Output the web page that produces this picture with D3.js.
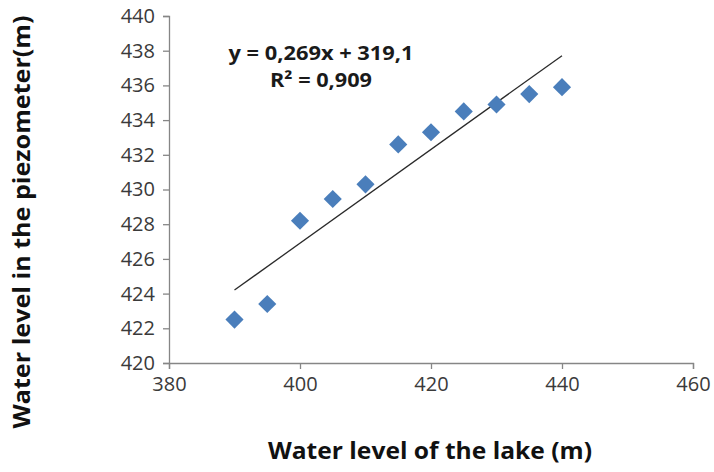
<!DOCTYPE html>
<html>
<head>
<meta charset="utf-8">
<script src="https://cdn.jsdelivr.net/npm/d3@7"></script>
<style>
  html, body { margin: 0; padding: 0; background: #fff; }
  svg { display: block; font-family: 'Open Sans', sans-serif; }
</style>
</head>
<body>
<div id="wrapper"></div>
<script>
// data
const lakeLevels = [390, 395, 400, 405, 410, 415, 420, 425, 430, 435, 440];
const piezoLevels = [422.5, 423.4, 428.2, 429.45, 430.3, 432.6, 433.3, 434.5, 434.9, 435.5, 435.9];
const xTicks = [380, 400, 420, 440, 460];
const yTicks = [420, 422, 424, 426, 428, 430, 432, 434, 436, 438, 440];
const equationLines = ['y = 0,269x + 319,1', 'R² = 0,909'];

function drawChart() {
  const dataset = lakeLevels.map((x, i) => ({ x: x, y: piezoLevels[i] }));

  let dimensions = {
    width: 714,
    height: 472,
    margin: {
      top: 16,
      right: 21,
      bottom: 109,
      left: 169,
    },
  };
  dimensions.boundedWidth =
    dimensions.width - dimensions.margin.left - dimensions.margin.right;
  dimensions.boundedHeight =
    dimensions.height - dimensions.margin.top - dimensions.margin.bottom;

  const wrapper = d3
    .select('#wrapper')
    .append('svg')
    .attr('width', dimensions.width)
    .attr('height', dimensions.height);

  const bounds = wrapper
    .append('g')
    .attr('transform', `translate(${dimensions.margin.left}, ${dimensions.margin.top})`);

  const xScale = d3.scaleLinear().domain([380, 460]).range([0, dimensions.boundedWidth]);
  const yScale = d3.scaleLinear().domain([420, 440]).range([dimensions.boundedHeight, 0]);

  const axisColor = '#868686';

  // x axis
  const xAxis = bounds
    .append('g')
    .attr('transform', `translate(0, ${dimensions.boundedHeight})`)
    .call(d3.axisBottom(xScale).tickValues(xTicks).tickSize(6).tickPadding(6));

  // y axis
  const yAxis = bounds
    .append('g')
    .call(d3.axisLeft(yScale).tickValues(yTicks).tickSize(6).tickPadding(8));

  [xAxis, yAxis].forEach((ax) => {
    ax.select('.domain').attr('stroke', axisColor).attr('stroke-width', 1.3);
    ax.selectAll('.tick line').attr('stroke', axisColor).attr('stroke-width', 1.3);
    ax.selectAll('.tick text')
      .attr('fill', '#3a3a3a')
      .style('font-size', '20px')
      .style('font-family', "'Open Sans', sans-serif");
  });
  xAxis.selectAll('.tick text').attr('dy', '0.8em');

  // linear trend line (least squares on the points)
  const meanX = d3.mean(dataset, (d) => d.x);
  const meanY = d3.mean(dataset, (d) => d.y);
  const slope =
    d3.sum(dataset, (d) => (d.x - meanX) * (d.y - meanY)) /
    d3.sum(dataset, (d) => (d.x - meanX) ** 2);
  const intercept = meanY - slope * meanX;
  const xExtent = d3.extent(dataset, (d) => d.x);

  bounds
    .append('line')
    .attr('x1', xScale(xExtent[0]))
    .attr('y1', yScale(slope * xExtent[0] + intercept))
    .attr('x2', xScale(xExtent[1]))
    .attr('y2', yScale(slope * xExtent[1] + intercept))
    .attr('stroke', '#2a2a2a')
    .attr('stroke-width', 1.3);

  // diamond markers
  const diamond = d3.symbol().type(d3.symbolSquare).size(165);
  bounds
    .append('g')
    .selectAll('path')
    .data(dataset)
    .join('path')
    .attr('d', diamond)
    .attr('transform', (d) => `translate(${xScale(d.x)}, ${yScale(d.y)}) rotate(45)`)
    .attr('fill', '#4a7ebb');

  // equation label
  const eqWidths = [185, 102];
  wrapper
    .append('g')
    .selectAll('text')
    .data(equationLines)
    .join('text')
    .attr('x', 321)
    .attr('y', (d, i) => 60 + i * 27)
    .attr('text-anchor', 'middle')
    .attr('textLength', (d, i) => eqWidths[i])
    .attr('lengthAdjust', 'spacingAndGlyphs')
    .style('font-size', '20px')
    .style('font-weight', 'bold')
    .style('fill', '#1a1a1a')
    .text((d) => d);

  // axis titles
  wrapper
    .append('text')
    .attr('x', 430)
    .attr('y', 459)
    .attr('text-anchor', 'middle')
    .attr('textLength', 324)
    .attr('lengthAdjust', 'spacingAndGlyphs')
    .style('font-size', '23px')
    .style('font-weight', 'bold')
    .style('fill', '#111')
    .text('Water level of the lake (m)');

  wrapper
    .append('text')
    .attr('transform', 'translate(30, 222) rotate(-90)')
    .attr('text-anchor', 'middle')
    .attr('textLength', 413)
    .attr('lengthAdjust', 'spacingAndGlyphs')
    .style('font-size', '23px')
    .style('font-weight', 'bold')
    .style('fill', '#111')
    .text('Water level in the piezometer(m)');
}

drawChart();
</script>
</body>
</html>
